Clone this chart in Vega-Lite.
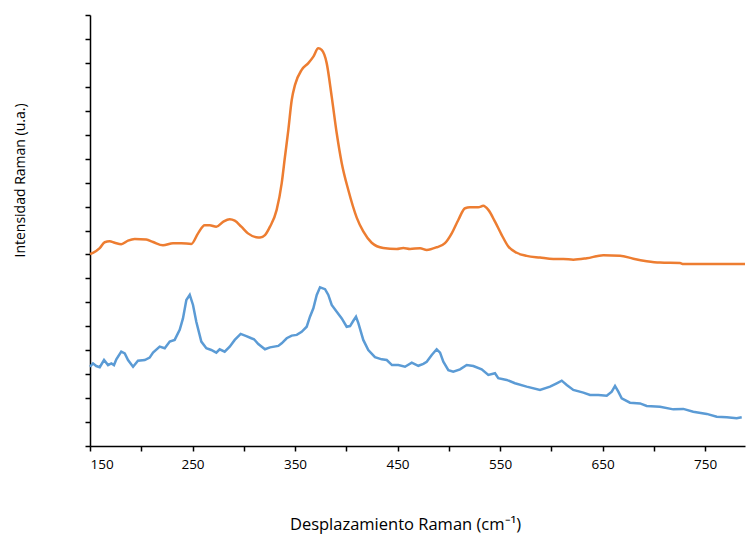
{
  "$schema": "https://vega.github.io/schema/vega-lite/v6.json",
  "width": 655,
  "height": 431,
  "autosize": "none",
  "padding": {"left": 90, "top": 15, "right": 2, "bottom": 89},
  "background": "white",
  "config": {"view": {"stroke": null}},
  "datasets": {
    "orange": [
      {"x":150,"y":8.02},{"x":152.9,"y":8.07},{"x":159.5,"y":8.26},{"x":164.3,"y":8.51},{"x":169.2,"y":8.55},{"x":174.1,"y":8.49},{"x":180.5,"y":8.43},{"x":187.1,"y":8.58},{"x":193.6,"y":8.65},{"x":204.9,"y":8.62},{"x":211.5,"y":8.52},{"x":221.2,"y":8.38},{"x":231.0,"y":8.47},{"x":239.1,"y":8.47},{"x":248.8,"y":8.44},{"x":255.4,"y":8.88},{"x":261.9,"y":9.22},{"x":266.8,"y":9.22},{"x":273.2,"y":9.16},{"x":279.8,"y":9.36},{"x":286.3,"y":9.47},{"x":291.2,"y":9.41},{"x":297.6,"y":9.16},{"x":304.1,"y":8.88},{"x":312.2,"y":8.72},{"x":315.9,"y":8.71},{"x":320.7,"y":8.81},{"x":325.6,"y":9.16},{"x":332.1,"y":9.86},{"x":337.0,"y":10.97},{"x":340.2,"y":12.08},{"x":343.5,"y":13.2},{"x":346.8,"y":14.45},{"x":350.0,"y":15.08},{"x":356.5,"y":15.71},{"x":363.0,"y":15.99},{"x":367.9,"y":16.26},{"x":372.7,"y":16.61},{"x":376.0,"y":16.54},{"x":380.9,"y":15.99},{"x":385.8,"y":14.59},{"x":390.7,"y":13.06},{"x":395.6,"y":11.81},{"x":402.0,"y":10.69},{"x":410.2,"y":9.54},{"x":416.6,"y":8.96},{"x":424.8,"y":8.49},{"x":436.1,"y":8.27},{"x":449.2,"y":8.23},{"x":455.7,"y":8.27},{"x":462.2,"y":8.23},{"x":472.0,"y":8.26},{"x":478.5,"y":8.19},{"x":488.2,"y":8.3},{"x":496.3,"y":8.47},{"x":502.9,"y":8.88},{"x":509.3,"y":9.44},{"x":515.9,"y":9.93},{"x":520.7,"y":9.97},{"x":528.8,"y":9.97},{"x":533.7,"y":10.03},{"x":538.6,"y":9.86},{"x":545.1,"y":9.37},{"x":551.7,"y":8.81},{"x":558.1,"y":8.33},{"x":566.3,"y":8.07},{"x":576.0,"y":7.94},{"x":589.0,"y":7.87},{"x":602.0,"y":7.81},{"x":611.8,"y":7.81},{"x":621.5,"y":7.78},{"x":634.6,"y":7.84},{"x":650.8,"y":7.97},{"x":667.1,"y":7.95},{"x":680.1,"y":7.82},{"x":693.1,"y":7.72},{"x":706.1,"y":7.66},{"x":725.6,"y":7.64},{"x":728.8,"y":7.6},{"x":758.1,"y":7.6},{"x":789,"y":7.6}
    ],
    "blue": [
      {"x":150,"y":3.31},{"x":152.9,"y":3.45},{"x":156.1,"y":3.34},{"x":159.5,"y":3.29},{"x":163.7,"y":3.59},{"x":167.6,"y":3.38},{"x":170.8,"y":3.45},{"x":173.4,"y":3.38},{"x":175.7,"y":3.62},{"x":180.5,"y":3.94},{"x":183.9,"y":3.87},{"x":187.1,"y":3.59},{"x":192.0,"y":3.31},{"x":196.8,"y":3.56},{"x":203.4,"y":3.59},{"x":208.2,"y":3.69},{"x":211.5,"y":3.9},{"x":218.0,"y":4.15},{"x":222.9,"y":4.08},{"x":227.8,"y":4.36},{"x":232.6,"y":4.43},{"x":237.5,"y":4.85},{"x":240.7,"y":5.33},{"x":244.0,"y":6.1},{"x":247.3,"y":6.31},{"x":250.5,"y":5.89},{"x":253.7,"y":5.19},{"x":258.6,"y":4.36},{"x":263.5,"y":4.08},{"x":268.3,"y":4.01},{"x":273.2,"y":3.9},{"x":276.5,"y":4.04},{"x":281.4,"y":3.94},{"x":286.3,"y":4.15},{"x":291.2,"y":4.43},{"x":297.0,"y":4.68},{"x":302.5,"y":4.59},{"x":307.4,"y":4.5},{"x":310.0,"y":4.46},{"x":314.2,"y":4.26},{"x":320.7,"y":4.04},{"x":325.6,"y":4.12},{"x":333.7,"y":4.18},{"x":337.0,"y":4.29},{"x":341.9,"y":4.5},{"x":346.8,"y":4.61},{"x":351.7,"y":4.64},{"x":356.5,"y":4.77},{"x":361.4,"y":4.98},{"x":364.6,"y":5.4},{"x":367.9,"y":5.75},{"x":371.2,"y":6.31},{"x":374.4,"y":6.63},{"x":379.3,"y":6.55},{"x":382.5,"y":6.31},{"x":385.8,"y":5.89},{"x":390.7,"y":5.61},{"x":395.6,"y":5.33},{"x":400.4,"y":4.98},{"x":403.7,"y":5.01},{"x":406.9,"y":5.23},{"x":409.5,"y":5.4},{"x":411.8,"y":5.13},{"x":416.6,"y":4.43},{"x":421.5,"y":4.01},{"x":428.0,"y":3.71},{"x":434.6,"y":3.62},{"x":439.5,"y":3.59},{"x":444.6,"y":3.38},{"x":450.8,"y":3.38},{"x":457.3,"y":3.31},{"x":463.9,"y":3.48},{"x":470.3,"y":3.35},{"x":475.2,"y":3.43},{"x":478.5,"y":3.52},{"x":483.4,"y":3.8},{"x":488.2,"y":4.04},{"x":491.5,"y":3.9},{"x":494.7,"y":3.52},{"x":499.6,"y":3.17},{"x":504.4,"y":3.1},{"x":511.0,"y":3.2},{"x":517.5,"y":3.38},{"x":524.0,"y":3.34},{"x":532.1,"y":3.2},{"x":538.6,"y":2.97},{"x":545.1,"y":3.04},{"x":548.3,"y":2.83},{"x":556.5,"y":2.76},{"x":564.6,"y":2.62},{"x":576.0,"y":2.48},{"x":589.0,"y":2.34},{"x":598.8,"y":2.48},{"x":605.3,"y":2.62},{"x":610.2,"y":2.73},{"x":615.1,"y":2.55},{"x":621.5,"y":2.34},{"x":631.3,"y":2.23},{"x":637.8,"y":2.13},{"x":645.9,"y":2.13},{"x":654.1,"y":2.1},{"x":659.0,"y":2.27},{"x":662.2,"y":2.51},{"x":665.4,"y":2.27},{"x":668.7,"y":1.99},{"x":676.8,"y":1.81},{"x":686.6,"y":1.78},{"x":693.1,"y":1.67},{"x":706.1,"y":1.64},{"x":719.1,"y":1.53},{"x":728.8,"y":1.55},{"x":738.5,"y":1.43},{"x":751.7,"y":1.34},{"x":761.4,"y":1.22},{"x":771.2,"y":1.2},{"x":780.9,"y":1.16},{"x":785.8,"y":1.2}
    ]
  },
  "encoding": {
    "x": {
      "field": "x", "type": "quantitative",
      "scale": {"domain": [150, 789], "nice": false, "zero": false},
      "axis": {
        "values": [150,200,250,300,350,400,450,500,550,600,650,700,750],
        "labelExpr": "datum.value % 100 == 50 ? datum.label : ''",
        "grid": false, "domainColor": "#000", "domainWidth": 1.5,
        "tickColor": "#000", "tickWidth": 1.5, "tickSize": 5,
        "labelFont": "Open Sans", "labelFontSize": 13.5, "labelColor": "#000",
        "labelPadding": 6,
        "title": "Desplazamiento Raman (cm⁻¹)",
        "titleFont": "Open Sans", "titleFontSize": 16.5, "titleFontWeight": "normal", "titleColor": "#000",
        "titleX": 315, "titleY": 78, "titleBaseline": "middle", "titleAlign": "center"
      }
    },
    "y": {
      "field": "y", "type": "quantitative",
      "scale": {"domain": [0, 18], "nice": false},
      "axis": {
        "values": [0,1,2,3,4,5,6,7,8,9,10,11,12,13,14,15,16,17,18],
        "labels": false, "grid": false,
        "domainColor": "#000", "domainWidth": 1.5,
        "tickColor": "#000", "tickWidth": 1.5, "tickSize": 5,
        "title": "Intensidad Raman (u.a.)",
        "titleFont": "Open Sans", "titleFontSize": 14, "titleFontWeight": "normal", "titleColor": "#000",
        "titleAngle": -90, "titleX": -70, "titleY": 165, "titleBaseline": "middle", "titleAlign": "center"
      }
    }
  },
  "layer": [
    {
      "data": {"name": "orange"},
      "mark": {"type": "line", "color": "#ED7D31", "strokeWidth": 2.5, "interpolate": "monotone"}
    },
    {
      "data": {"name": "blue"},
      "mark": {"type": "line", "color": "#5B9BD5", "strokeWidth": 2.5}
    }
  ]
}
